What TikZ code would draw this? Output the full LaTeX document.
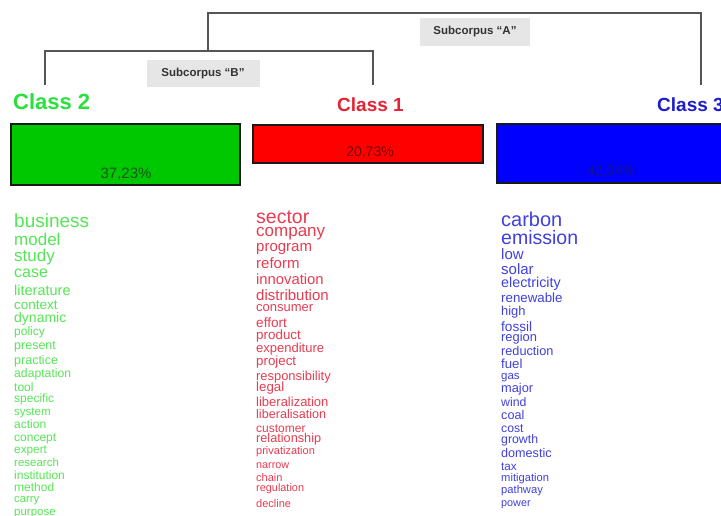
\documentclass[tikz,border=0pt]{standalone}
\usepackage{fontspec}
\setmainfont{Liberation Sans}
\definecolor{wgreen}{RGB}{85,230,85}
\definecolor{wred}{RGB}{232,60,80}
\definecolor{wblue}{RGB}{64,64,222}
\definecolor{cgreen}{RGB}{40,225,60}
\definecolor{cred}{RGB}{228,36,52}
\definecolor{cblue}{RGB}{30,30,200}
\definecolor{bgreen}{RGB}{0,200,0}
\definecolor{bred}{RGB}{255,0,0}
\definecolor{bblue}{RGB}{0,0,255}
\definecolor{treegray}{RGB}{85,85,85}
\definecolor{labgray}{RGB}{230,230,230}
\begin{document}
\begin{tikzpicture}[x=1pt,y=-1pt,
  tree/.style={draw=treegray,line width=1.8pt},
  sublabel/.style={fill=labgray,inner sep=0pt,font=\fontsize{11.5}{11.5}\selectfont\bfseries,text=black!80},
  classlab/.style={anchor=base west,inner sep=0pt,font=\fontsize{#1}{#1}\selectfont\bfseries},
  bar/.style={draw=black!90,line width=1.6pt,anchor=north west,inner sep=0pt},
  pct/.style={anchor=base,inner sep=0pt,font=\fontsize{15}{15}\selectfont},
  word/.style={anchor=base west,inner sep=0pt}]
\clip (0,0) rectangle (721,515);
\fill[white] (0,0) rectangle (721,515);

% tree
\coordinate (c2top) at (45,85);
\coordinate (c1top) at (373,85);
\coordinate (c3top) at (701,85);
\coordinate (jB) at (208,51);
\coordinate (jA) at (208,13);
\draw[tree] (c2top) |- (jB) -| (c1top);
\draw[tree] (jB) -- (jA) -| (c3top);

\node[sublabel,minimum width=110pt,minimum height=28pt,text depth=3pt] (subA) at (475,32) {Subcorpus “A”};
\node[sublabel,minimum width=113pt,minimum height=27pt,text depth=3pt] (subB) at (203,73.5) {Subcorpus “B”};

% class labels
\node[classlab=22,text=cgreen] (class2) at (13,109) {Class 2};
\node[classlab=19,text=cred] (class1) at (337,111) {Class 1};
\node[classlab=19,text=cblue] (class3) at (657,111) {Class 3};

% bars
\node[bar,fill=bgreen,minimum width=229pt,minimum height=61pt] (barG) at (10,123) {};
\node[bar,fill=bred,minimum width=230pt,minimum height=38pt] (barR) at (252,124) {};
\node[bar,fill=bblue,minimum width=240pt,minimum height=59pt] (barB) at (496,123) {};
\node[pct,text={rgb,255:red,25;green,85;blue,25}] (pG) at (126,178) {37,23\%};
\node[pct,text={rgb,255:red,120;green,0;blue,0},font=\fontsize{14}{14}\selectfont] (pR) at (370,156) {20,73\%};
\node[pct,text={rgb,255:red,20;green,20;blue,140},font=\fontsize{14}{14}\selectfont] (pB) at (611,175) {42,04\%};

% green words
\foreach \t/\y/\s [count=\i] in {business/222/19,model/240/17,study/256/17,case/273/16,literature/291/14.5,context/305/13.5,dynamic/318/14,policy/332/12,present/346/12.5,practice/361/12.5,adaptation/374/12.2,tool/388/12,specific/399/12,system/412/11.5,action/425/12,concept/438/12,expert/450/11.8,research/463/11.5,institution/476/12,method/488/12,carry/499/11.3,purpose/512/11.5}
  \node[word,text=wgreen,font=\fontsize{\s}{\s}\selectfont] (g\i) at (14,{\y+0.3*\s}) {\t};

% red words
\foreach \t/\y/\s [count=\i] in {sector/218/19.5,company/231/17,program/247/15,reform/264/15,innovation/280/14.8,distribution/296/15,consumer/308/13,effort/323/13.6,product/335/13.4,expenditure/349/13,project/362/13.3,responsibility/377/12.9,legal/388/13.3,liberalization/403/13,liberalisation/415/12.6,customer/429/12,relationship/439/12.7,privatization/451/11,narrow/465/10.8,chain/478/11,regulation/488/10.9,decline/504/11}
  \node[word,text=wred,font=\fontsize{\s}{\s}\selectfont] (r\i) at (256,{\y+0.3*\s}) {\t};

% blue words
\foreach \t/\y/\s [count=\i] in {carbon/220/20,emission/239/19.5,low/255/15,solar/270/15,electricity/283/14.3,renewable/299/13.3,high/312/12.9,fossil/327/13.6,region/338/12.9,reduction/352/12.7,fuel/365/13.2,gas/376/11.5,major/389/12.8,wind/403/12.3,coal/416/12.6,cost/429/12.2,growth/440/12.3,domestic/454/12.6,tax/467/11.7,mitigation/478/11.2,pathway/490/11.2,power/503/10.8}
  \node[word,text=wblue,font=\fontsize{\s}{\s}\selectfont] (b\i) at (501,{\y+0.3*\s}) {\t};
\end{tikzpicture}
\end{document}
